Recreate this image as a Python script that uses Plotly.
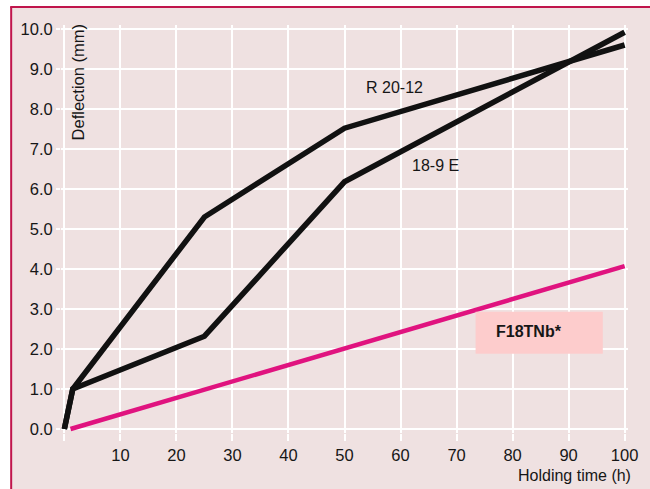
import plotly.graph_objects as go

# Deflection vs holding time for three stainless grades
r2012_time = [0, 1.1, 1.5, 25, 50, 100]
r2012_defl = [0.0, 0.8, 1.0, 5.3, 7.52, 9.6]

e189_time = [0, 1.1, 1.5, 25, 50, 100]
e189_defl = [0.0, 0.8, 1.0, 2.32, 6.18, 9.92]

f18_time = [1.1, 100]
f18_defl = [0.0, 4.07]

x_ticks = [0, 10, 20, 30, 40, 50, 60, 70, 80, 90, 100]
x_ticktext = ["", "10", "20", "30", "40", "50", "60", "70", "80", "90", "100"]
y_ticks = [0, 1, 2, 3, 4, 5, 6, 7, 8, 9, 10]

BG = "#efe1e1"
BORDER = "#c0154c"
TEXT = "#161616"
FONT = "Liberation Sans, Arial, sans-serif"

fig = go.Figure()
fig.add_trace(go.Scatter(x=r2012_time, y=r2012_defl, mode="lines",
                         line=dict(color="#111111", width=5.5), name="R 20-12"))
fig.add_trace(go.Scatter(x=e189_time, y=e189_defl, mode="lines",
                         line=dict(color="#111111", width=5.5), name="18-9 E"))
fig.add_trace(go.Scatter(x=f18_time, y=f18_defl, mode="lines",
                         line=dict(color="#e0137f", width=4.5), name="F18TNb*"))

W, H = 650, 489
L, R, T, B = 61, 20, 25, 56

def px_x(p):
    return (p - L) / (W - L - R)

def px_y(p):
    return (H - B - p) / (H - T - B)

fig.update_layout(
    width=W, height=H,
    margin=dict(l=L, r=R, t=T, b=B),
    paper_bgcolor="white",
    plot_bgcolor=BG,
    showlegend=False,
    font=dict(family=FONT, size=16, color=TEXT),
    xaxis=dict(range=[-0.6, 100.6], tickvals=x_ticks, ticktext=x_ticktext,
               showgrid=True, gridcolor="white", gridwidth=2, zeroline=False,
               ticks="outside", ticklen=7, tickwidth=2, tickcolor="white",
               showline=False, tickfont=dict(size=16.5, color=TEXT)),
    yaxis=dict(range=[-0.1, 10.1], tickvals=y_ticks, tickformat=".1f",
               showgrid=True, gridcolor="white", gridwidth=2, zeroline=False,
               ticks="outside", ticklen=4, tickwidth=2, tickcolor="white",
               showline=False, tickfont=dict(size=16.5, color=TEXT)),
    shapes=[
        # panel fill behind the chart
        dict(type="rect", xref="paper", yref="paper", layer="below",
             x0=px_x(11), x1=px_x(660), y0=px_y(500), y1=px_y(7),
             fillcolor=BG, line=dict(width=0)),
        # panel frame: left and top edges
        dict(type="line", xref="paper", yref="paper", layer="below",
             x0=px_x(11), x1=px_x(11), y0=px_y(500), y1=px_y(7),
             line=dict(color=BORDER, width=2)),
        dict(type="line", xref="paper", yref="paper", layer="below",
             x0=px_x(10), x1=px_x(660), y0=px_y(7), y1=px_y(7),
             line=dict(color=BORDER, width=2)),
        # label box for F18TNb*
        dict(type="rect", xref="x", yref="y", layer="above",
             x0=73.4, x1=96.1, y0=1.88, y1=2.93,
             fillcolor="#fdcccc", line=dict(width=0)),
    ],
    annotations=[
        dict(text="Deflection (mm)", textangle=-90, xref="paper", yref="paper",
             x=px_x(78.5), y=px_y(82), xanchor="center", yanchor="middle",
             showarrow=False, font=dict(size=16.5, color=TEXT)),
        dict(text="Holding time (h)", xref="paper", yref="paper",
             x=px_x(635), y=px_y(475), xanchor="right", yanchor="middle",
             showarrow=False, font=dict(size=16, color=TEXT)),
        dict(text="R 20-12", xref="x", yref="y", x=53.5, y=8.55,
             xanchor="left", yanchor="middle", showarrow=False,
             font=dict(size=16, color=TEXT)),
        dict(text="18-9 E", xref="x", yref="y", x=61.7, y=6.58,
             xanchor="left", yanchor="middle", showarrow=False,
             font=dict(size=16, color=TEXT)),
        dict(text="<b>F18TNb*</b>", xref="x", yref="y", x=76.7, y=2.45,
             xanchor="left", yanchor="middle", showarrow=False,
             font=dict(size=16, color=TEXT)),
    ],
)

fig.write_html("out.html")
